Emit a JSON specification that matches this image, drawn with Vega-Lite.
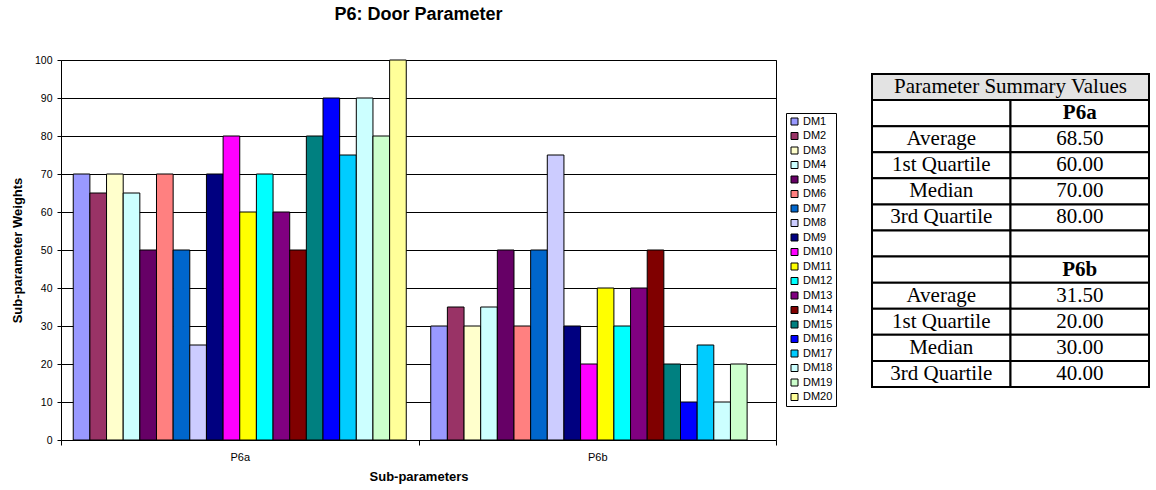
{
  "$schema": "https://vega.github.io/schema/vega-lite/v6.json",
  "padding": {"left": 11, "top": 5, "right": 0, "bottom": 0},
  "background": "white",
  "bounds": "flush",
  "spacing": 96,
  "config": {
    "font": "Liberation Sans",
    "view": {"stroke": null},
    "axis": {"labelColor": "#000", "titleColor": "#000", "tickColor": "#000", "domainColor": "#000"}
  },
  "datasets": {
    "bars": [
      {"param": "P6a", "dm": "DM1", "weight": 70},
      {"param": "P6a", "dm": "DM2", "weight": 65},
      {"param": "P6a", "dm": "DM3", "weight": 70},
      {"param": "P6a", "dm": "DM4", "weight": 65},
      {"param": "P6a", "dm": "DM5", "weight": 50},
      {"param": "P6a", "dm": "DM6", "weight": 70},
      {"param": "P6a", "dm": "DM7", "weight": 50},
      {"param": "P6a", "dm": "DM8", "weight": 25},
      {"param": "P6a", "dm": "DM9", "weight": 70},
      {"param": "P6a", "dm": "DM10", "weight": 80},
      {"param": "P6a", "dm": "DM11", "weight": 60},
      {"param": "P6a", "dm": "DM12", "weight": 70},
      {"param": "P6a", "dm": "DM13", "weight": 60},
      {"param": "P6a", "dm": "DM14", "weight": 50},
      {"param": "P6a", "dm": "DM15", "weight": 80},
      {"param": "P6a", "dm": "DM16", "weight": 90},
      {"param": "P6a", "dm": "DM17", "weight": 75},
      {"param": "P6a", "dm": "DM18", "weight": 90},
      {"param": "P6a", "dm": "DM19", "weight": 80},
      {"param": "P6a", "dm": "DM20", "weight": 100},
      {"param": "P6b", "dm": "DM1", "weight": 30},
      {"param": "P6b", "dm": "DM2", "weight": 35},
      {"param": "P6b", "dm": "DM3", "weight": 30},
      {"param": "P6b", "dm": "DM4", "weight": 35},
      {"param": "P6b", "dm": "DM5", "weight": 50},
      {"param": "P6b", "dm": "DM6", "weight": 30},
      {"param": "P6b", "dm": "DM7", "weight": 50},
      {"param": "P6b", "dm": "DM8", "weight": 75},
      {"param": "P6b", "dm": "DM9", "weight": 30},
      {"param": "P6b", "dm": "DM10", "weight": 20},
      {"param": "P6b", "dm": "DM11", "weight": 40},
      {"param": "P6b", "dm": "DM12", "weight": 30},
      {"param": "P6b", "dm": "DM13", "weight": 40},
      {"param": "P6b", "dm": "DM14", "weight": 50},
      {"param": "P6b", "dm": "DM15", "weight": 20},
      {"param": "P6b", "dm": "DM16", "weight": 10},
      {"param": "P6b", "dm": "DM17", "weight": 25},
      {"param": "P6b", "dm": "DM18", "weight": 10},
      {"param": "P6b", "dm": "DM19", "weight": 20}
    ],
    "table": [
      {"row": 1, "col": "header", "text": "Parameter Summary Values"},
      {"row": 2, "col": "label", "text": ""},
      {"row": 2, "col": "value", "text": "P6a"},
      {"row": 3, "col": "label", "text": "Average"},
      {"row": 3, "col": "value", "text": "68.50"},
      {"row": 4, "col": "label", "text": "1st Quartile"},
      {"row": 4, "col": "value", "text": "60.00"},
      {"row": 5, "col": "label", "text": "Median"},
      {"row": 5, "col": "value", "text": "70.00"},
      {"row": 6, "col": "label", "text": "3rd Quartile"},
      {"row": 6, "col": "value", "text": "80.00"},
      {"row": 7, "col": "label", "text": ""},
      {"row": 7, "col": "value", "text": ""},
      {"row": 8, "col": "label", "text": ""},
      {"row": 8, "col": "value", "text": "P6b"},
      {"row": 9, "col": "label", "text": "Average"},
      {"row": 9, "col": "value", "text": "31.50"},
      {"row": 10, "col": "label", "text": "1st Quartile"},
      {"row": 10, "col": "value", "text": "20.00"},
      {"row": 11, "col": "label", "text": "Median"},
      {"row": 11, "col": "value", "text": "30.00"},
      {"row": 12, "col": "label", "text": "3rd Quartile"},
      {"row": 12, "col": "value", "text": "40.00"}
    ]
  },
  "hconcat": [
    {
      "width": 715,
      "height": 380,
      "view": {"stroke": "#000", "strokeWidth": 1},
      "title": {"text": "P6: Door Parameter", "fontSize": 18, "fontWeight": "bold", "font": "Liberation Sans", "anchor": "middle", "offset": 31, "color": "#000"},
      "data": {"name": "bars"},
      "mark": {"type": "bar", "stroke": "#000", "strokeWidth": 1},
      "encoding": {
        "x": {
          "field": "param", "type": "nominal", "title": "Sub-parameters",
          "scale": {"paddingInner": 0, "paddingOuter": 0},
          "axis": {"labelAngle": 0, "labelFontSize": 11, "labelPadding": 6, "tickSize": 5, "tickBand": "extent", "domain": false, "grid": false, "titleFontSize": 13, "titleFontWeight": "bold", "titlePadding": 8}
        },
        "xOffset": {
          "field": "dm", "type": "nominal",
          "scale": {"domain": ["DM1","DM2","DM3","DM4","DM5","DM6","DM7","DM8","DM9","DM10","DM11","DM12","DM13","DM14","DM15","DM16","DM17","DM18","DM19","DM20"], "paddingInner": 0, "paddingOuter": 0.735}
        },
        "y": {
          "field": "weight", "type": "quantitative", "title": "Sub-parameter Weights",
          "scale": {"domain": [0, 100], "nice": false},
          "axis": {"values": [0,10,20,30,40,50,60,70,80,90,100], "grid": true, "gridColor": "#000", "gridWidth": 1, "domain": false, "tickSize": 4, "labelPadding": 5, "labelFontSize": 10.5, "titleFontSize": 13, "titleFontWeight": "bold", "titlePadding": 9.5}
        },
        "color": {
          "field": "dm", "type": "nominal",
          "scale": {
            "domain": ["DM1","DM2","DM3","DM4","DM5","DM6","DM7","DM8","DM9","DM10","DM11","DM12","DM13","DM14","DM15","DM16","DM17","DM18","DM19","DM20"],
            "range": ["#9999FF","#993366","#FFFFCC","#CCFFFF","#660066","#FF8080","#0066CC","#CCCCFF","#000080","#FF00FF","#FFFF00","#00FFFF","#800080","#800000","#008080","#0000FF","#00CCFF","#CCFFFF","#CCFFCC","#FFFF99"]
          },
          "legend": {
            "orient": "none", "legendX": 725, "legendY": 53, "title": null,
            "strokeColor": "#000", "fillColor": "#fff", "padding": 3,
            "symbolType": "square", "symbolSize": 49, "symbolStrokeColor": "#000", "symbolStrokeWidth": 1, "symbolOpacity": 1,
            "labelFontSize": 11, "labelColor": "#000", "labelOffset": 3, "rowPadding": 2.5
          }
        }
      }
    },
    {
      "width": 277,
      "height": 327,
      "view": {"stroke": null},
      "data": {"name": "table"},
      "encoding": {
        "y": {"field": "row", "type": "ordinal", "axis": null, "scale": {"domain": [1,2,3,4,5,6,7,8,9,10,11,12], "paddingInner": 0, "paddingOuter": 0.269, "align": 1}}
      },
      "layer": [
        {
          "transform": [{"filter": "datum.row == 1"}],
          "mark": {"type": "rect", "fill": "#e3e3e3", "stroke": "#000", "strokeWidth": 2},
          "encoding": {}
        },
        {
          "transform": [{"filter": "datum.row > 1"}],
          "mark": {"type": "rect", "fill": "#fff", "stroke": "#000", "strokeWidth": 2},
          "encoding": {
            "x": {"field": "col", "type": "nominal", "axis": null, "scale": {"domain": ["label", "value"], "paddingInner": 0, "paddingOuter": 0}}
          }
        },
        {
          "transform": [{"filter": "datum.row == 1"}],
          "mark": {"type": "text", "font": "Liberation Serif", "fontSize": 21, "color": "#000", "baseline": "middle", "align": "center"},
          "encoding": {
            "x": {"datum": "value", "type": "nominal", "bandPosition": 0},
            "text": {"field": "text"}
          }
        },
        {
          "transform": [{"filter": "datum.row > 1 && indexof(datum.text, 'P6') !== 0"}],
          "mark": {"type": "text", "font": "Liberation Serif", "fontSize": 21, "color": "#000", "baseline": "middle", "align": "center"},
          "encoding": {
            "x": {"field": "col", "type": "nominal"},
            "text": {"field": "text"}
          }
        },
        {
          "transform": [{"filter": "indexof(datum.text, 'P6') === 0"}],
          "mark": {"type": "text", "font": "Liberation Serif", "fontSize": 21, "fontWeight": "bold", "color": "#000", "baseline": "middle", "align": "center"},
          "encoding": {
            "x": {"field": "col", "type": "nominal"},
            "text": {"field": "text"}
          }
        }
      ]
    }
  ]
}
